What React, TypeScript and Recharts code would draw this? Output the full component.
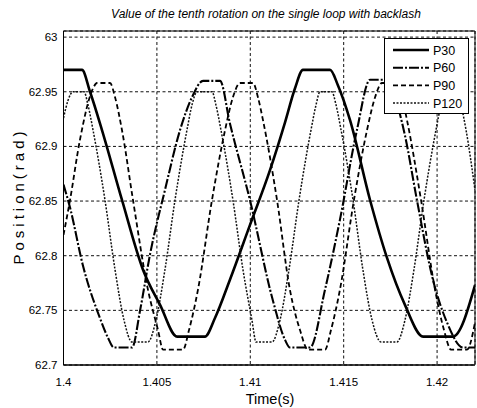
import React from 'react';
import { LineChart, Line, XAxis, YAxis, CartesianGrid, ReferenceArea, Legend } from 'recharts';

const TITLE = 'Value of the tenth rotation on the single loop with backlash';
const X_LABEL = 'Time(s)';
const Y_LABEL = 'Position(rad)';
const X_TICKS = [1.4, 1.405, 1.41, 1.415, 1.42];
const Y_TICKS = [62.7, 62.75, 62.8, 62.85, 62.9, 62.95, 63];
const X_DOMAIN = [1.4, 1.42203];
const Y_DOMAIN = [62.7, 63.0056];

const P30_T = [1.4, 1.40099, 1.40142, 1.40206, 1.40313, 1.40426, 1.40517, 1.40608, 1.40757, 1.40811, 1.40891, 1.40998, 1.41105, 1.41186, 1.41239, 1.41282, 1.41427, 1.41469, 1.41534, 1.41641, 1.41732, 1.41828, 1.41925, 1.42085, 1.42203];
const P30_V = [62.970, 62.970, 62.950, 62.915, 62.851, 62.787, 62.755, 62.726, 62.726, 62.743, 62.778, 62.828, 62.878, 62.922, 62.953, 62.970, 62.970, 62.956, 62.924, 62.851, 62.798, 62.755, 62.726, 62.726, 62.773];

const P60_T = [1.4, 1.40035, 1.40104, 1.40195, 1.40238, 1.40270, 1.40367, 1.40410, 1.40463, 1.40543, 1.40624, 1.40688, 1.40747, 1.40838, 1.40891, 1.40998, 1.41121, 1.41186, 1.41212, 1.41320, 1.41400, 1.41480, 1.41571, 1.41641, 1.41710, 1.41764, 1.41828, 1.41892, 1.41978, 1.42053, 1.42139, 1.42203];
const P60_V = [62.865, 62.844, 62.791, 62.743, 62.725, 62.716, 62.716, 62.750, 62.801, 62.860, 62.915, 62.945, 62.960, 62.960, 62.921, 62.851, 62.759, 62.723, 62.716, 62.716, 62.769, 62.833, 62.915, 62.961, 62.961, 62.950, 62.910, 62.851, 62.778, 62.739, 62.716, 62.716];

const P90_T = [1.4, 1.40035, 1.40088, 1.40158, 1.40179, 1.40249, 1.40276, 1.40313, 1.40372, 1.40452, 1.40506, 1.40533, 1.40640, 1.40672, 1.40720, 1.40795, 1.40865, 1.40907, 1.40945, 1.41015, 1.41041, 1.41068, 1.41143, 1.41212, 1.41266, 1.41309, 1.41400, 1.41432, 1.41480, 1.41555, 1.41625, 1.41668, 1.41705, 1.41785, 1.41812, 1.41839, 1.41914, 1.41989, 1.42037, 1.42075, 1.42160, 1.42203];
const P90_V = [62.819, 62.851, 62.906, 62.953, 62.958, 62.958, 62.945, 62.915, 62.851, 62.769, 62.732, 62.714, 62.714, 62.732, 62.769, 62.851, 62.915, 62.945, 62.958, 62.958, 62.945, 62.924, 62.851, 62.769, 62.732, 62.714, 62.714, 62.732, 62.769, 62.851, 62.915, 62.945, 62.958, 62.958, 62.945, 62.924, 62.851, 62.769, 62.732, 62.714, 62.714, 62.739];

const P120_T = [1.4, 1.40024, 1.40051, 1.40110, 1.40131, 1.40158, 1.40222, 1.40276, 1.40324, 1.40367, 1.40452, 1.40495, 1.40543, 1.40597, 1.40661, 1.40688, 1.40715, 1.40795, 1.40816, 1.40843, 1.40907, 1.40961, 1.41009, 1.41031, 1.41116, 1.41159, 1.41207, 1.41261, 1.41325, 1.41352, 1.41373, 1.41437, 1.41459, 1.41486, 1.41550, 1.41603, 1.41652, 1.41700, 1.41785, 1.41828, 1.41876, 1.41930, 1.41994, 1.42021, 1.42042, 1.42107, 1.42128, 1.42155, 1.42203];
const P120_V = [62.926, 62.942, 62.950, 62.950, 62.938, 62.915, 62.851, 62.787, 62.741, 62.721, 62.721, 62.741, 62.787, 62.851, 62.915, 62.938, 62.950, 62.950, 62.938, 62.915, 62.851, 62.787, 62.741, 62.721, 62.721, 62.741, 62.787, 62.851, 62.915, 62.938, 62.950, 62.950, 62.938, 62.915, 62.851, 62.787, 62.741, 62.721, 62.721, 62.741, 62.787, 62.851, 62.915, 62.938, 62.950, 62.950, 62.938, 62.915, 62.860];

const SERIES_NAMES = ['P30', 'P60', 'P90', 'P120'];

const toRows = (ts: number[], vs: number[]) => ts.map((t, i) => ({ t, v: vs[i] }));

const SERIES = [
  { name: SERIES_NAMES[0], data: toRows(P30_T, P30_V), width: 2.6, dash: undefined as string | undefined, color: '#000' },
  { name: SERIES_NAMES[1], data: toRows(P60_T, P60_V), width: 2.1, dash: '10 2 2 2', color: '#000' },
  { name: SERIES_NAMES[2], data: toRows(P90_T, P90_V), width: 1.8, dash: '5 3', color: '#000' },
  { name: SERIES_NAMES[3], data: toRows(P120_T, P120_V), width: 1.5, dash: '2 1.5', color: '#111' },
];

const FONT = '"Liberation Sans", Arial, sans-serif';

const fmt = (v: number) => String(Number(v.toFixed(3)));

const renderLegend = () => (
  <div style={{ width: 83, height: 74, border: '1px solid #000', background: '#fff', boxSizing: 'content-box' }}>
    <svg width={83} height={74}>
      {SERIES.map((s, i) => {
        const y = 11 + i * 17.7;
        return (
          <g key={s.name}>
            <line x1={8} x2={44} y1={y} y2={y} stroke={s.color} strokeWidth={s.width} strokeDasharray={s.dash} />
            <text x={48} y={y + 4.5} fontSize={12.5} fontFamily={FONT} fill="#000">{s.name}</text>
          </g>
        );
      })}
    </svg>
  </div>
);

export default function App() {
  return (
    <div style={{ position: 'absolute', left: 0, top: 0, width: 477, height: 408, background: '#fff', fontFamily: FONT }}>
      <LineChart width={477} height={408} margin={{ top: 31, right: 2, bottom: 0, left: 0.5 }}>
        <CartesianGrid stroke="#111" strokeDasharray="3 2.5" strokeWidth={1} />
        <XAxis
          type="number"
          dataKey="t"
          domain={X_DOMAIN}
          ticks={X_TICKS}
          allowDataOverflow
          height={43}
          tickSize={6}
          tickMargin={7}
          tickLine={false}
          axisLine={{ stroke: '#000' }}
          tickFormatter={fmt}
          tick={{ fill: '#000', fontSize: 11.5, fontFamily: FONT }}
        />
        <YAxis
          type="number"
          domain={Y_DOMAIN}
          ticks={Y_TICKS}
          allowDataOverflow
          width={63}
          tickSize={6}
          tickMargin={0}
          tickLine={false}
          axisLine={{ stroke: '#000' }}
          tickFormatter={fmt}
          tick={{ fill: '#000', fontSize: 11.5, fontFamily: FONT }}
        />
        <ReferenceArea x1={X_DOMAIN[0]} x2={X_DOMAIN[1]} y1={Y_DOMAIN[0]} y2={Y_DOMAIN[1]} fill="none" stroke="#000" strokeWidth={1} ifOverflow="visible" />
        {SERIES.map((s) => (
          <Line
            key={s.name}
            name={s.name}
            data={s.data}
            dataKey="v"
            type="monotone"
            dot={false}
            activeDot={false}
            stroke={s.color}
            strokeWidth={s.width}
            strokeDasharray={s.dash}
            isAnimationActive={false}
          />
        ))}
        <Legend
          layout="vertical"
          align="center"
          verticalAlign="middle"
          content={renderLegend}
          wrapperStyle={{ left: 384, top: 38, width: 85, height: 76 }}
        />
      </LineChart>
      <svg width={477} height={408} style={{ position: 'absolute', left: 0, top: 0, pointerEvents: 'none' }}>
        <text x={266} y={18} textAnchor="middle" fontSize={12} fontStyle="italic" fontFamily={FONT} fill="#000">{TITLE}</text>
        <text x={270} y={404} textAnchor="middle" fontSize={14.5} fontFamily={FONT} fill="#000">{X_LABEL}</text>
        <text transform="translate(24,196) rotate(-90)" textAnchor="middle" fontSize={15} letterSpacing={4} fontFamily={FONT} fill="#000">{Y_LABEL}</text>
      </svg>
    </div>
  );
}
